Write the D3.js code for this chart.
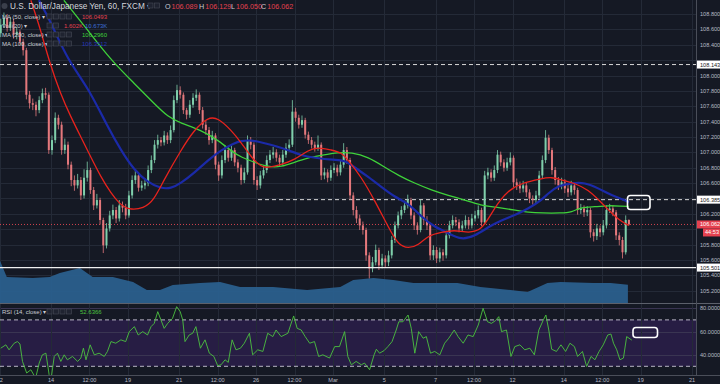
<!DOCTYPE html>
<html><head><meta charset="utf-8">
<script src="https://cdn.jsdelivr.net/npm/d3@7"></script>
<style>
html,body{margin:0;padding:0;background:#151924;}
svg{display:block;font-family:"Liberation Sans",Arial,sans-serif;}
</style></head><body>
<svg id="c" width="720" height="384"></svg>
<script>
// ---------- DATA (3-hour bars, bar i starts at hour -48+3i from Feb 14 00:00) ----------
const firstOpen = 108.55;
const closes = [
108.66,108.75,108.62,108.70,108.53,108.57,108.44,108.33,107.75,107.64,
107.62,107.55,107.68,107.77,107.75,107.03,107.16,107.45,107.36,107.03,
107.10,106.84,106.64,106.57,106.64,106.44,106.67,106.77,106.51,106.31,
106.38,106.12,105.79,106.01,106.18,106.25,106.14,106.31,106.28,106.18,
106.44,106.64,106.70,106.54,106.57,106.60,106.77,106.90,107.10,107.16,
107.13,107.22,107.16,107.29,107.68,107.81,107.75,107.55,107.49,107.62,
107.71,107.75,107.55,107.36,107.29,107.16,107.22,106.84,106.70,106.90,
107.03,106.93,107.03,106.87,106.80,106.64,106.74,107.16,107.10,106.64,
106.57,106.70,106.77,106.90,106.97,107.00,106.93,106.87,106.97,107.06,
107.10,107.53,107.45,107.36,107.42,107.23,107.16,107.10,107.06,107.10,
106.70,106.74,106.67,106.77,106.80,106.74,106.84,107.03,106.90,106.44,
106.25,106.14,106.05,105.99,105.66,105.49,105.57,105.73,105.53,105.62,
105.57,105.66,105.86,106.05,106.18,106.25,106.31,106.38,106.18,106.05,
105.99,106.31,106.12,106.05,105.66,105.73,105.62,105.70,105.66,105.92,
106.05,106.12,106.09,106.01,106.05,106.12,106.05,106.14,106.18,106.25,
106.09,106.70,106.74,106.67,106.77,106.97,106.87,106.80,106.87,106.93,
106.61,106.57,106.53,106.57,106.48,106.40,106.38,106.44,106.70,106.90,
107.19,107.03,106.77,106.64,106.57,106.61,106.53,106.48,106.57,106.51,
106.25,106.27,106.22,106.25,105.96,105.91,106.01,105.96,106.05,106.25,
106.27,106.22,105.92,105.86,105.70,106.12,106.062];
const highs = [
108.74,108.82,108.80,108.76,108.74,108.63,108.60,108.48,108.36,107.80,
107.70,107.66,107.73,107.83,107.84,107.78,107.22,107.52,107.49,107.40,
107.18,107.14,106.88,106.70,106.72,106.68,106.78,106.88,106.80,106.55,
106.46,106.41,106.15,106.08,106.24,106.32,106.29,106.38,106.36,106.33,
106.50,106.70,106.78,106.74,106.63,106.66,106.83,106.96,107.16,107.23,
107.20,107.28,107.26,107.35,107.74,107.88,107.86,107.78,107.58,107.68,
107.77,107.82,107.78,107.59,107.41,107.33,107.28,107.25,106.88,106.96,
107.09,107.07,107.09,107.06,106.91,106.84,106.80,107.22,107.20,107.13,
106.69,106.76,106.83,106.96,107.03,107.07,107.04,106.97,107.03,107.12,
107.17,107.68,107.58,107.49,107.48,107.45,107.27,107.20,107.14,107.22,
107.13,106.80,106.78,106.83,106.86,106.84,106.90,107.12,107.07,106.93,
106.48,106.30,106.19,106.10,106.02,105.70,105.64,105.80,105.76,105.68,
105.66,105.72,105.91,106.10,106.23,106.30,106.37,106.45,106.41,106.22,
106.09,106.38,106.34,106.17,106.08,105.79,105.77,105.76,105.74,105.98,
106.11,106.18,106.16,106.13,106.11,106.18,106.16,106.20,106.24,106.31,
106.28,106.76,106.80,106.78,106.83,107.03,107.01,106.91,106.93,107.00,
106.96,106.66,106.62,106.63,106.61,106.52,106.44,106.50,106.76,106.96,
107.29,107.23,107.06,106.81,106.68,106.67,106.65,106.58,106.63,106.60,
106.54,106.33,106.31,106.30,106.28,106.00,106.07,106.05,106.12,106.31,
106.33,106.31,106.25,105.96,105.90,106.18,106.129];
const lows = [
108.50,108.62,108.57,108.58,108.48,108.47,108.40,108.26,107.69,107.57,
107.55,107.47,107.51,107.64,107.70,106.98,106.97,107.12,107.30,106.97,
106.98,106.78,106.56,106.50,106.53,106.38,106.40,106.62,106.46,106.25,
106.27,106.06,105.69,105.75,105.97,106.13,106.08,106.10,106.22,106.13,
106.15,106.40,106.59,106.49,106.50,106.52,106.56,106.73,106.86,107.05,
107.08,107.09,107.11,107.12,107.26,107.64,107.70,107.50,107.43,107.45,
107.58,107.67,107.50,107.31,107.23,107.10,107.12,106.78,106.63,106.66,
106.86,106.88,106.89,106.82,106.74,106.58,106.60,106.71,107.04,106.58,
106.51,106.53,106.66,106.73,106.86,106.92,106.88,106.82,106.83,106.93,
107.02,107.07,107.40,107.31,107.32,107.18,107.11,107.05,107.01,107.02,
106.64,106.65,106.61,106.63,106.73,106.69,106.70,106.80,106.85,106.38,
106.18,106.08,105.99,105.93,105.59,105.36,105.44,105.53,105.47,105.49,
105.51,105.52,105.62,105.82,106.01,106.13,106.21,106.27,106.13,105.99,
105.93,105.96,106.06,105.99,105.60,105.60,105.56,105.57,105.59,105.62,
105.88,106.01,106.04,105.96,105.97,106.01,106.00,106.01,106.10,106.14,
106.04,106.06,106.65,106.62,106.63,106.73,106.82,106.75,106.76,106.83,
106.55,106.51,106.47,106.48,106.42,106.34,106.32,106.34,106.40,106.66,
106.86,106.98,106.71,106.58,106.51,106.52,106.47,106.42,106.44,106.45,
106.19,106.20,106.16,106.17,105.89,105.84,105.86,105.90,105.92,106.01,
106.21,106.17,105.86,105.79,105.62,105.67,106.050];

// moving averages: [bar index, price]
const ma50 = [[9.4,108.98],[12.5,108.59],[15,108.20],[18.75,107.75],[21.9,107.46],[25,107.20],[28.1,106.94],[31.25,106.68],[34.4,106.47],[36.9,106.34],[39.7,106.25],[44.7,106.27],[47.8,106.38],[50.9,106.64],[56.25,107.03],[60.3,107.29],[64.7,107.46],[67.8,107.45],[71.9,107.29],[75,107.13],[78.1,106.94],[81.25,106.81],[83.4,106.80],[87.5,106.84],[91.6,106.90],[95.9,107.03],[99.1,107.07],[103.1,107.03],[106.25,107.00],[108.4,106.90],[112.5,106.68],[116.6,106.38],[120.9,106.03],[124.1,105.79],[127.2,105.75],[130.3,105.79],[133.4,105.92],[137.5,105.96],[141.6,105.99],[144.7,105.96],[150,105.96],[154.1,106.29],[158.4,106.51],[162.5,106.60],[168.75,106.66],[171.9,106.68],[175,106.64],[179.1,106.60],[183.4,106.51],[186.6,106.38],[189.7,106.25],[192.8,106.12],[196,106.049]];
const ma100 = [[11.9,108.98],[15.6,108.70],[20.9,108.20],[27.2,107.85],[33.4,107.33],[37.5,107.03],[41.6,106.77],[45.9,106.61],[50,106.53],[53.1,106.53],[56.25,106.60],[60.3,106.73],[64.7,106.90],[68.75,107.03],[72.8,107.12],[75,107.15],[78.1,107.16],[81.25,107.13],[85.3,107.09],[89.7,107.03],[93.75,106.96],[97.8,106.93],[104.1,106.90],[107.2,106.90],[110.3,106.81],[114.7,106.68],[118.75,106.55],[122.8,106.42],[127.2,106.34],[131.25,106.16],[135.3,106.03],[139.7,105.95],[143.75,105.86],[147.8,105.91],[152.2,106.03],[156.25,106.12],[160.3,106.18],[164.7,106.27],[168.75,106.38],[170.9,106.47],[174.1,106.57],[178.1,106.60],[182.2,106.61],[186.6,106.53],[190.6,106.44],[194.7,106.38],[196,106.35]];
const ma200 = [[19.7,108.98],[26.6,108.62],[34.4,108.20],[41.6,107.90],[47.8,107.64],[52.2,107.46],[56.25,107.38],[62.5,107.29],[67.8,107.16],[72.8,106.99],[75,106.94],[79.1,106.87],[83.4,106.81],[87.5,106.81],[91.6,106.87],[95.9,106.93],[100,106.96],[105.3,107.00],[109.4,107.00],[114.7,106.94],[119.7,106.81],[124.1,106.70],[129.1,106.60],[134.4,106.51],[139.7,106.44],[144.7,106.38],[150,106.31],[154.1,106.29],[160.3,106.25],[164.7,106.22],[168.75,106.21],[175,106.21],[178.1,106.22],[181.25,106.29],[185.3,106.29],[189.7,106.31],[193.75,106.30],[196,106.296]];
// volume MA(20), thousands: [bar index, value]
const volMA = [[0,25.3],[2.2,15.3],[10.3,14.7],[15.6,15.3],[18.75,17.6],[25,20.6],[29,15.3],[35.3,15.3],[41.6,12.4],[45.9,7.6],[50,7.6],[54,10.6],[62.5,11.8],[68.75,12.4],[75,9.4],[85.3,9.4],[95.9,7.6],[106.25,9.4],[110.3,13.5],[116.6,14.7],[122.8,13.5],[129.1,11.8],[137.5,11.8],[142.8,11.8],[150,9.4],[159.4,7.6],[164.7,6.5],[170.9,11.8],[175,12.4],[185.3,11.8],[190.6,11.8],[196,10.67]];
// RSI(14): [bar index, value]
const rsi = [[0,45.6],[1.6,48.5],[2.6,44.2],[4.2,49.9],[5.2,51.3],[6.0,49.3],[6.8,34.2],[8.1,24.2],[9.4,27],[10.9,19.9],[12,32.8],[13,39.9],[14.1,41.3],[15.1,22.8],[15.8,20.7],[16.7,38.5],[17.7,41.3],[18.75,34.2],[19.8,39.9],[20.8,35.6],[22.4,38.5],[24,34.2],[25,37.1],[25.8,45.6],[26.6,35.6],[27.9,48.5],[29.2,39.9],[30.7,41.3],[32.3,38.5],[33.3,42.8],[34.4,51.3],[35.9,49.9],[37.5,52.8],[39,51.3],[40.1,59.9],[41.7,64.2],[42.9,57],[44.3,59.9],[45.8,57],[46.9,64.2],[47.9,67],[49,77.1],[50,69.9],[51,62.7],[52.1,67],[53.6,71.3],[54.9,81.4],[56,77.1],[56.8,69.9],[57.5,51.3],[58.8,57],[59.9,58.5],[60.9,64.2],[62.3,45.6],[63.75,52.8],[65.1,41.3],[66.5,38.5],[67.7,30.5],[68.75,31.3],[70,35.6],[71,33.4],[72.2,52.8],[73.4,44.2],[74.8,45.6],[76,49.9],[77.6,58.5],[78.6,39.9],[80.2,44.2],[81.8,42.8],[83.3,58.5],[84.9,55.6],[85.9,61.3],[87.5,55.6],[89.6,58.5],[91.4,73.4],[92.5,62.7],[93.75,61.3],[95,55.6],[96.4,49.9],[97.9,51.3],[99.2,38.5],[100.5,39.9],[102.6,37.1],[104.2,47],[105.7,47],[107.3,59.9],[108.3,38.5],[109.4,31.3],[110.9,34.2],[112.5,31.3],[113.5,32.8],[115.1,27],[116.5,39.9],[117.2,44.7],[118.2,41.3],[119.6,43.5],[120.8,47],[122.1,51.3],[123.4,61.3],[124.2,68.4],[125.5,68.4],[127.1,74.2],[128.1,62.7],[129.2,41.3],[130.4,59.9],[131.8,54.2],[132.8,55.6],[134.1,41.3],[135.4,42.8],[137,39.9],[138.5,49.9],[139.8,54.2],[141.5,61.3],[142.7,55.6],[144.3,49.9],[145.8,57],[147.4,55.6],[149,65.6],[150.5,80],[151.9,68.4],[153.1,67],[154.4,69.4],[155.4,72.8],[156.25,59.9],[157.8,61.3],[159.2,38.5],[160.4,47],[162,48.5],[163.5,44.2],[165.1,45.6],[166.5,39.9],[167.9,61.3],[169.3,69.9],[170.1,74.2],[171,61.3],[171.9,44.7],[173.4,42.8],[174.8,48.5],[176.25,42.8],[177.6,49.9],[179,47],[180,38.5],[181.5,42.8],[182.8,29.9],[184.2,38.5],[185.4,35.6],[186.7,42.8],[188,48.5],[189.4,57],[190.4,57.8],[191.2,49.9],[192.2,44.2],[193.2,35.6],[194.3,37.1],[195.3,55.6],[196.9,52.6]];

const xTickHours  = [-48,0,36,72,120,156,192,228,264,312,360,396,432,480,516,552,600];
const xTickLabels = ["12","14","12:00","19","21","12:00","26","12:00","Mar","5","7","12:00","12","14","12:00","19","21"];
const priceTicks = [105.2,105.4,105.6,105.8,106.0,106.2,106.4,106.6,106.8,107.0,107.2,107.4,107.6,107.8,108.0,108.2,108.4,108.6,108.8];
const rsiTicks = [80,60,40];
const levels = {high:108.143, mid:106.385, low:105.501, last:106.062};
const header = {title:"U.S. Dollar/Japanese Yen, 60, FXCM", O:"106.089", H:"106.129", L:"106.050", C:"106.062"};

// ---------- LAYOUT ----------
const svg = d3.select("#c");
const W = 720, plotR = 696, mainB = 303, rsiB = 375;
const bg = "#151924", grid = "#242a37", txt = "#b7bac4";
const hourOf = i => -48 + 3*i;
const x = d3.scaleLinear().domain([0,600]).range([51,692]);
const xb = i => x(hourOf(i));
const y = d3.scaleLinear().domain([105.04,108.983]).range([mainB,0]);
const yr = d3.scaleLinear().domain([30,80]).range([366.3,308.3]);
const yv = d3.scaleLinear().domain([0,40]).range([mainB,235]);

svg.append("rect").attr("width",W).attr("height",384).attr("fill",bg);

const defs = svg.append("defs");
defs.append("clipPath").attr("id","cm").append("rect").attr("x",0).attr("y",0).attr("width",plotR).attr("height",mainB);
defs.append("clipPath").attr("id","cr").append("rect").attr("x",0).attr("y",mainB+1).attr("width",plotR).attr("height",rsiB-mainB-1);

// RSI band
svg.append("rect").attr("x",0).attr("width",plotR).attr("y",yr(70)).attr("height",yr(30)-yr(70)).attr("fill","#271d44");

// grid
const g = svg.append("g");
g.selectAll(".hg").data(priceTicks).join("line").attr("x1",0).attr("x2",plotR)
  .attr("y1",d=>Math.round(y(d))+0.5).attr("y2",d=>Math.round(y(d))+0.5).attr("stroke",grid).attr("stroke-width",1);
g.selectAll(".rg").data(rsiTicks).join("line").attr("x1",0).attr("x2",plotR)
  .attr("y1",d=>Math.round(yr(d))+0.5).attr("y2",d=>Math.round(yr(d))+0.5).attr("stroke","#3a3552").attr("stroke-width",1);
g.selectAll(".vg").data(xTickHours).join("line").attr("y1",0).attr("y2",rsiB)
  .attr("x1",d=>Math.round(x(d))+0.5).attr("x2",d=>Math.round(x(d))+0.5).attr("stroke",grid).attr("stroke-width",1);

// main panel contents
const m = svg.append("g").attr("clip-path","url(#cm)");

// volume MA area
m.append("path").datum(volMA)
  .attr("d", d3.area().x(d=>xb(d[0])).y0(mainB).y1(d=>yv(d[1])).curve(d3.curveLinear))
  .attr("fill","#2a5f8d").attr("opacity",0.95);

// reference lines
m.append("line").attr("x1",0).attr("x2",plotR).attr("y1",y(levels.high)).attr("y2",y(levels.high))
  .attr("stroke","#d8d8d8").attr("stroke-dasharray","4,3").attr("stroke-width",1);
m.append("line").attr("x1",258).attr("x2",plotR).attr("y1",y(levels.mid)).attr("y2",y(levels.mid))
  .attr("stroke","#d8d8d8").attr("stroke-dasharray","4,3").attr("stroke-width",1);
m.append("line").attr("x1",0).attr("x2",plotR).attr("y1",y(levels.last)).attr("y2",y(levels.last))
  .attr("stroke","#d2434f").attr("stroke-dasharray","1,2").attr("stroke-width",1);

// candles
const bars = closes.map((c,i)=>{
  const o = i===0 ? firstOpen : closes[i-1];
  return {i, o, c, h:Math.max(highs[i],o,c), l:Math.min(lows[i],o,c)};
});
const upCol = "#7fcfab", dnCol = "#e4787c";
const cg = m.append("g");
cg.selectAll("line").data(bars).join("line")
  .attr("x1",d=>xb(d.i)+1).attr("x2",d=>xb(d.i)+1)
  .attr("y1",d=>y(d.h)).attr("y2",d=>y(d.l))
  .attr("stroke",d=>d.c>=d.o?upCol:dnCol).attr("stroke-width",0.8);
cg.selectAll("rect").data(bars).join("rect")
  .attr("x",d=>xb(d.i)).attr("width",2)
  .attr("y",d=>y(Math.max(d.o,d.c)))
  .attr("height",d=>Math.max(0.8, Math.abs(y(d.o)-y(d.c))))
  .attr("fill",d=>d.c>=d.o?upCol:dnCol);

// moving averages
const maLine = d3.line().x(d=>xb(d[0])+1).y(d=>y(d[1])).curve(d3.curveBasis);
m.append("path").datum(ma200).attr("d",maLine).attr("fill","none").attr("stroke","#3fd23a").attr("stroke-width",1.3);
m.append("path").datum(ma100).attr("d",maLine).attr("fill","none").attr("stroke","#1b2aa8").attr("stroke-width",2.2);
m.append("path").datum(ma50).attr("d",maLine).attr("fill","none").attr("stroke","#e8231d").attr("stroke-width",1.3);

// support line (solid)
m.append("line").attr("x1",0).attr("x2",plotR).attr("y1",y(levels.low)).attr("y2",y(levels.low))
  .attr("stroke","#f0f0f0").attr("stroke-width",1.3);

// highlight box main
m.append("rect").attr("x",627.5).attr("y",195.5).attr("width",22.5).attr("height",14).attr("rx",3)
  .attr("fill","none").attr("stroke","#ffffff").attr("stroke-width",1.6);

// panel separator
svg.append("line").attr("x1",0).attr("x2",W).attr("y1",mainB+0.5).attr("y2",mainB+0.5).attr("stroke","#5c606b").attr("stroke-width",1);

// RSI panel
const r = svg.append("g").attr("clip-path","url(#cr)");
[70,30].forEach(v=>{
  r.append("line").attr("x1",0).attr("x2",plotR).attr("y1",yr(v)).attr("y2",yr(v))
   .attr("stroke","#c9c6d6").attr("stroke-dasharray","4,3").attr("stroke-width",0.9);
});
r.append("path").datum(rsi).attr("d",d3.line().x(d=>xb(d[0])+1).y(d=>yr(d[1])))
  .attr("fill","none").attr("stroke","#4cc23f").attr("stroke-width",0.9);
svg.append("rect").attr("x",633).attr("y",327.5).attr("width",24.5).attr("height",10).attr("rx",3)
  .attr("fill","none").attr("stroke","#ffffff").attr("stroke-width",1.6);

// bottom axis line and right axis line
svg.append("line").attr("x1",0).attr("x2",W).attr("y1",rsiB+0.5).attr("y2",rsiB+0.5).attr("stroke","#4a4e59");
svg.append("line").attr("x1",plotR+0.5).attr("x2",plotR+0.5).attr("y1",0).attr("y2",rsiB).attr("stroke","#4a4e59");

// x labels
svg.append("g").selectAll("text").data(xTickHours).join("text")
  .attr("x",d=>x(d)).attr("y",382).attr("text-anchor","middle")
  .attr("font-size",5.6).attr("fill",txt).text((d,i)=>xTickLabels[i]);

// price labels (skip ones hidden under the tags)
const tagYs = [y(levels.high), y(levels.mid), y(levels.low), y(levels.last), y(levels.last)+8];
svg.append("g").selectAll("text").data(priceTicks.filter(d=>tagYs.every(t=>Math.abs(t-y(d))>6.5))).join("text")
  .attr("x",700).attr("y",d=>y(d)+2).attr("font-size",5.6).attr("fill",txt)
  .text(d=>d.toFixed(3));
svg.append("g").selectAll("text").data(rsiTicks).join("text")
  .attr("x",700).attr("y",d=>yr(d)+2).attr("font-size",5.6).attr("fill",txt)
  .text(d=>d.toFixed(4));

// price tags
function tag(val, fill, col, label){
  const yy0 = y(val);
  svg.append("rect").attr("x",697).attr("y",yy0-4).attr("width",23).attr("height",8).attr("fill",fill);
  svg.append("text").attr("x",700).attr("y",yy0+2).attr("font-size",5.6).attr("fill",col).text(label);
}
tag(levels.high,"#ffffff","#222", levels.high.toFixed(3));
tag(levels.mid,"#ffffff","#222", levels.mid.toFixed(3));
tag(levels.low,"#ffffff","#222", levels.low.toFixed(3));
tag(levels.last,"#e5414f","#ffffff", levels.last.toFixed(3));
svg.append("rect").attr("x",703).attr("y",y(levels.last)+4).attr("width",17).attr("height",8).attr("fill","#e5414f");
svg.append("text").attr("x",705).attr("y",y(levels.last)+10).attr("font-size",5.6).attr("fill","#fff").text("44:53");

// header / legends
const hd = svg.append("g");
hd.append("circle").attr("cx",4.5).attr("cy",6).attr("r",3).attr("fill","#3a3f4b");
hd.append("text").attr("x",10).attr("y",9).attr("font-size",8.2).attr("fill","#d4d6dc").text(header.title+" \u25BE");
function boxes(x0, yc, n){
  for(let k=0;k<n;k++) hd.append("rect").attr("x",x0+k*6.5).attr("y",yc-3).attr("width",5).attr("height",5)
     .attr("fill","#1f2330").attr("stroke","#464b57").attr("stroke-width",0.6);
}
boxes(148,6,2);
const ohlcX = [165,199,231,261];
[["O",header.O],["H",header.H],["L",header.L],["C",header.C]].forEach(([k,v],j)=>{
  const t = hd.append("text").attr("x",ohlcX[j]).attr("y",9).attr("font-size",7.2);
  t.append("tspan").attr("fill","#c9ccd3").text(k);
  t.append("tspan").attr("fill","#e5414f").attr("dx",1).text(v);
});
const rows = [
  {y:17, name:"MA (50, close)", vals:[["106.0493","#e5414f",82]]},
  {y:26, name:"Vol (20)", vals:[["1.602K","#e5414f",64],["10.673K","#3d6fd6",85]]},
  {y:35, name:"MA (200, close)", vals:[["106.2960","#3fd23a",82]]},
  {y:44, name:"MA (100, close)", vals:[["106.3512","#2537b8",82]]},
  {y:312, name:"RSI (14, close)", vals:[["52.6366","#4cc23f",80]]}
];
rows.forEach(rw=>{
  hd.append("text").attr("x",2).attr("y",rw.y+2).attr("font-size",6).attr("fill","#c9ccd3").text(rw.name+" \u25BE");
  boxes(47, rw.y, rw.name.startsWith("Vol")?2:4);
  rw.vals.forEach(([v,c,vx])=>{
    hd.append("text").attr("x",vx).attr("y",rw.y+2).attr("font-size",6).attr("fill",c).text(v);
  });
});
</script></body></html>
